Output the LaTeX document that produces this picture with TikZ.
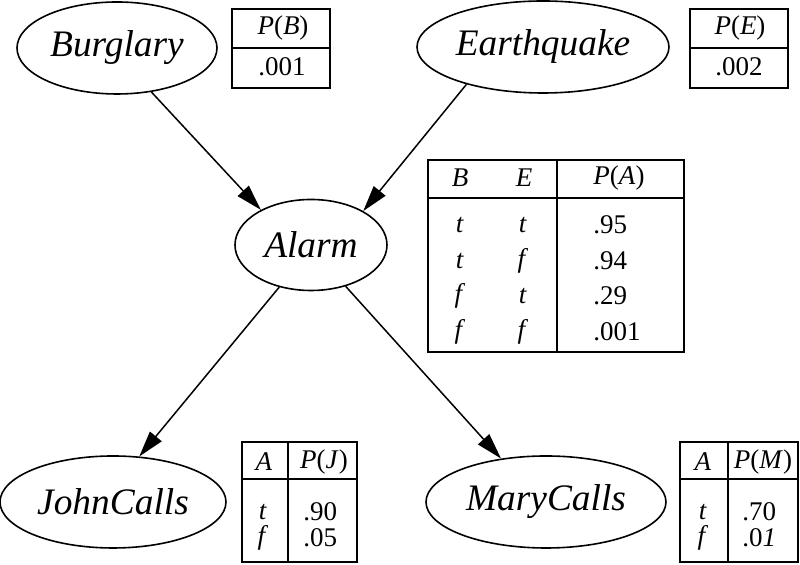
\documentclass[tikz,border=0pt]{standalone}
\usepackage{fontspec}
\setmainfont{Liberation Serif}
\usetikzlibrary{shapes.geometric,arrows.meta}

\newcommand{\prob}[1]{\textit{P}(\textit{#1})}

\tikzset{
  var/.style={ellipse, draw, line width=0.8pt, inner sep=0pt, minimum height=46pt,
              font=\fontsize{18.7}{22}\selectfont\itshape},
  cell/.style={font=\fontsize{13.5}{16}\selectfont, inner sep=0pt},
  arc/.style={line width=0.75pt, -{Triangle[length=13pt,width=7.5pt]}},
  grid/.style={line width=0.9pt}
}

\begin{document}
\begin{tikzpicture}[x=0.5pt, y=-0.5pt]
  \useasboundingbox (0,0) rectangle (800,565);

  % the five variables
  \node[var, minimum width=100pt] (burglary) at (117,48) {Burglary};
  \node[var, minimum width=126pt] (earthquake) at (543,47) {Earthquake};
  \node[var, minimum width=76pt, minimum height=45.5pt] (alarm) at (311,245) {Alarm};
  \node[var, minimum width=113pt] (johncalls) at (113,502) {JohnCalls};
  \node[var, minimum width=120pt] (marycalls) at (546,502) {MaryCalls};

  % causal links
  \draw[arc] (burglary.-52) -- (alarm.145);
  \draw[arc] (earthquake.-154) -- (alarm.33);
  \draw[arc] (alarm.-127) -- (johncalls.60);
  \draw[arc] (alarm.-50) -- (marycalls.136);

  % prior of Burglary
  \draw[grid] (232,9) rectangle (330,88);
  \draw[grid] (232,48) -- (330,48);
  \node[cell] (pb) at (283,28) {\prob{B}};
  \node[cell] (pbv) at (282,67) {.001};

  % prior of Earthquake
  \draw[grid] (690,9) rectangle (788,88);
  \draw[grid] (690,48) -- (788,48);
  \node[cell] (pe) at (740,28) {\prob{E}};
  \node[cell] (pev) at (739,67) {.002};

  % table of Alarm
  \draw[grid] (428,160) rectangle (684,352);
  \draw[grid] (428,198) -- (684,198);
  \draw[grid] (557,160) -- (557,352);
  \node[cell] (ab) at (460,178) {\textit{B}};
  \node[cell] (ae) at (524,178) {\textit{E}};
  \node[cell] (pa) at (619,178) {\prob{A}};
  \foreach \b/\e/\p/\y [count=\i] in {t/t/.95/225, t/f/.94/261, f/t/.29/296, f/f/.001/332} {
    \node[cell] (ab\i) at (460,\y) {\textit{\b}};
    \node[cell] (ae\i) at (523,\y) {\textit{\e}};
    \node[cell, anchor=west] (pa\i) at (593,\y) {\p};
  }

  % table of JohnCalls
  \draw[grid] (242,442) rectangle (357,562);
  \draw[grid] (242,479) -- (357,479);
  \draw[grid] (288,442) -- (288,562);
  \node[cell] (ja) at (264,462) {\textit{A}};
  \node[cell] (pj) at (324,462) {\prob{J}};
  \node[cell] (ja1) at (263,512) {\textit{t}};
  \node[cell] (ja2) at (263,538) {\textit{f}};
  \node[cell, anchor=west] (pj1) at (303,512) {.90};
  \node[cell, anchor=west] (pj2) at (303,538) {.05};

  % table of MaryCalls
  \draw[grid] (680,442) rectangle (798,562);
  \draw[grid] (680,479) -- (798,479);
  \draw[grid] (728,442) -- (728,562);
  \node[cell] (ma) at (703,462) {\textit{A}};
  \node[cell] (pm) at (763,462) {\prob{M}};
  \node[cell] (ma1) at (703,512) {\textit{t}};
  \node[cell] (ma2) at (703,538) {\textit{f}};
  \node[cell, anchor=west] (pm1) at (742,512) {.70};
  \node[cell, anchor=west] (pm2) at (742,538) {.0\textit{1}};
\end{tikzpicture}
\end{document}
